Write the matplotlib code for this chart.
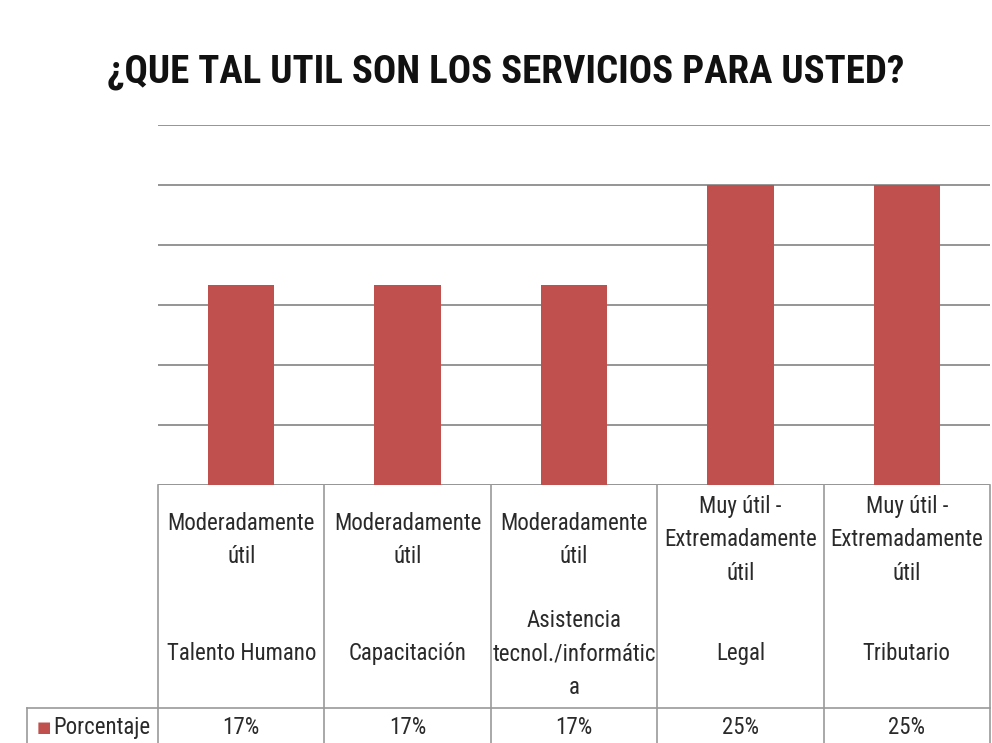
import matplotlib.pyplot as plt

categories = ["Talento Humano", "Capacitación", "Asistencia\ntecnol./informátic\na", "Legal", "Tributario"]
ratings = ["Moderadamente\nútil", "Moderadamente\nútil", "Moderadamente\nútil",
           "Muy útil -\nExtremadamente\nútil", "Muy útil -\nExtremadamente\nútil"]
porcentaje = [16.7, 16.7, 16.7, 25.0, 25.0]
series_name = "Porcentaje"

plt.rcParams['font.family'] = ['Roboto Condensed', 'Liberation Sans Narrow', 'Roboto', 'DejaVu Sans']

W, H = 992, 743
fig = plt.figure(figsize=(W / 100, H / 100), dpi=100)
fig.patch.set_facecolor('white')

# plot area in pixel coords of the original picture
left, right, top, base = 158, 990, 125, 485
ax = fig.add_axes([left / W, 1 - base / H, (right - left) / W, (base - top) / H])

bar_color = '#C0504D'
grid_color = '#8C8C8C'
x = range(len(categories))
ax.bar(x, porcentaje, width=0.4, color=bar_color, zorder=3)
ax.set_xlim(-0.5, len(categories) - 0.5)
ax.set_ylim(0, 30)
ax.set_yticks(range(0, 31, 5))
ax.yaxis.grid(True, color=grid_color, linewidth=1.3)
ax.set_axisbelow(True)
ax.tick_params(left=False, bottom=False, labelleft=False, labelbottom=False)
for s in ax.spines.values():
    s.set_visible(False)

fig.text(0.5 * (107 + 905) / W, 1 - 72 / H, "¿QUE TAL UTIL SON LOS SERVICIOS PARA USTED?",
         ha='center', va='center', fontsize=28, fontweight='bold', color='#111111')

# data table under the plot
line_c = '#9A9A9A'
tr = ax.get_xaxis_transform()
def py(p):
    # pixel row -> axes fraction
    return (base - p) / (base - top)

hdr_bot = 708
for i in range(len(categories) + 1):
    xe = i - 0.5
    ax.plot([xe, xe], [py(base), py(H + 5)], transform=tr, color=line_c, lw=1.2, clip_on=False)
x0 = -0.5 - (left - 27) / ((right - left) / len(categories))
ax.plot([x0, len(categories) - 0.5], [py(hdr_bot)] * 2, transform=tr, color=line_c, lw=1.2, clip_on=False)
ax.plot([x0, x0], [py(hdr_bot), py(H + 5)], transform=tr, color=line_c, lw=1.2, clip_on=False)

txt = dict(transform=tr, ha='center', va='center', fontsize=16.5, color='#2A2A2A',
           linespacing=1.58, clip_on=False)
for i, (r, c) in enumerate(zip(ratings, categories)):
    ax.text(i, py(540), r, **txt)
    ax.text(i, py(654), c, **txt)
    ax.text(i, py(728), f"{porcentaje[i]:.0f}%", **txt)

ax.text(x0 + 0.06, py(728), "\u25A0", transform=tr, ha='left', va='center',
        fontsize=11, color=bar_color, family=['DejaVu Sans'], clip_on=False)
ax.text(x0 + 0.16, py(728), series_name, transform=tr, ha='left', va='center',
        fontsize=16.5, color='#2A2A2A', clip_on=False)

fig.savefig('out.png', dpi=100)
